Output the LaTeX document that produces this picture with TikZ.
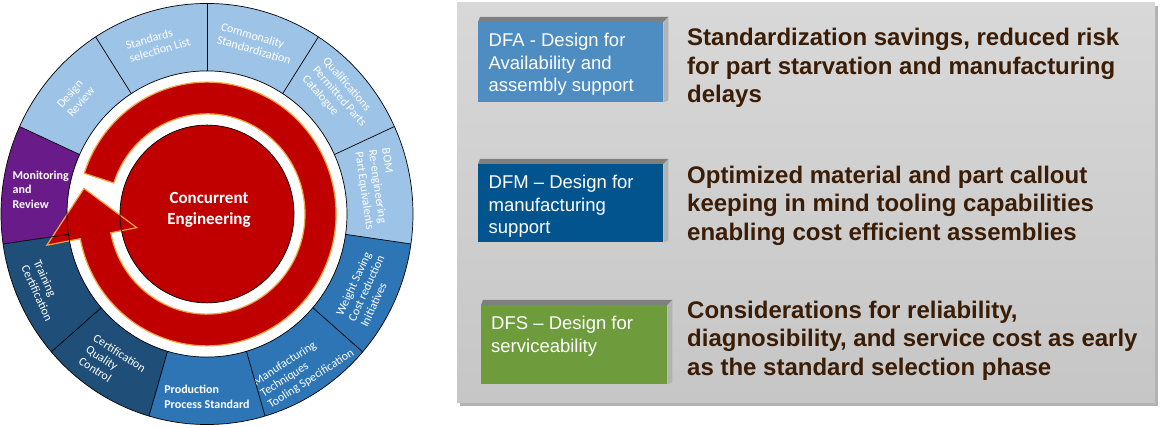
\documentclass[tikz,border=0pt]{standalone}
\usepackage{fontspec}
\setmainfont{Liberation Sans}
\newfontfamily\wheelfont{Carlito}
\usepackage{tikz}

\definecolor{segLight}{HTML}{9DC3E6}
\definecolor{segMid}{HTML}{2E75B6}
\definecolor{segDark}{HTML}{1F4E79}
\definecolor{segPurple}{HTML}{6A1B8A}
\definecolor{ceRed}{HTML}{C00000}
\definecolor{ceGlow}{HTML}{F2A33A}
\definecolor{dfaBlue}{HTML}{4E8DC1}
\definecolor{dfmBlue}{HTML}{02548F}
\definecolor{dfsGreen}{HTML}{6E9B3C}
\definecolor{noteBrown}{HTML}{3B1D06}
\definecolor{panelTop}{HTML}{D8D8D8}
\definecolor{panelBottom}{HTML}{C6C6C6}
\definecolor{edgeTop}{HTML}{7F7F7F}
\definecolor{edgeSide}{HTML}{B3B3B3}

\begin{document}
\begin{tikzpicture}[
    x=1pt, y=1pt,
    seg/.style={draw=black, line width=0.7pt},
    segtext/.style={text=white, font=\wheelfont\fontsize{12}{13.5}\selectfont, align=left, inner sep=0pt},
    dbox/.style={rectangle, inner sep=0pt, anchor=north west},
    boxtext/.style={text=white, font=\fontsize{18.5}{22.7}\selectfont, align=left, inner sep=0pt, anchor=north west},
    note/.style={text=noteBrown, font=\bfseries\fontsize{24}{28.5}\selectfont, align=left, inner sep=0pt, anchor=north west}
]
\path[use as bounding box, fill=white] (0,0) rectangle (1163,428);

% right panel
\fill[gray!60] (460,22) rectangle (1158,422);
\shade[top color=panelTop, bottom color=panelBottom] (457,25) rectangle (1155,425);

\node[dbox, fill=dfaBlue, minimum width=185, minimum height=80] (dfa) at (478,406) {};
\node[dbox, fill=dfmBlue, minimum width=185, minimum height=78] (dfm) at (478,264) {};
\node[dbox, fill=dfsGreen, minimum width=186, minimum height=79] (dfs) at (481,123) {};
\foreach \b in {dfa,dfm,dfs}{
  \fill[edgeTop] (\b.north west) -- ([shift={(2,5)}]\b.north west) -- ([shift={(5,5)}]\b.north east) -- (\b.north east) -- cycle;
  \fill[edgeSide] (\b.north east) -- ([shift={(5,5)}]\b.north east) -- ([shift={(5,2)}]\b.south east) -- (\b.south east) -- cycle;
}

\node[boxtext] (dfaText) at ([xshift=10.5,yshift=-10.9]dfa.north west) {DFA - Design for\\Availability and\\assembly support};
\node[boxtext] (dfmText) at ([xshift=10.5,yshift=-10.9]dfm.north west) {DFM -- Design for\\manufacturing\\support};
\node[boxtext] (dfsText) at ([xshift=10,yshift=-10.9]dfs.north west) {DFS -- Design for\\serviceability};

\node[note] (dfaNote) at (687,399.8) {Standardization savings, reduced risk\\for part starvation and manufacturing\\delays};
\node[note] (dfmNote) at (687,262.2) {Optimized material and part callout\\keeping in mind tooling capabilities\\enabling cost efficient assemblies};
\node[note] (dfsNote) at (687,127.2) {Considerations for reliability,\\diagnosibility, and service cost as early\\as the standard selection phase};

% wheel
\begin{scope}[shift={(207,214)}, yscale=1.022]
  \foreach \i/\col/\txt/\rot/\r in {
      0/segLight/{Commonality\\Standardization}/-16.4/174,
      1/segLight/{Qualifications\\Permitted Parts\\Catalogue}/-49.1/175,
      2/segLight/{BOM\\Re-engineering\\Part Equivalents}/-81.8/172,
      3/segMid/{Weight Saving\\Cost reduction\\Initiatives}/65.5/175,
      4/segMid/{Manufacturing\\Techniques\\Tooling Specification}/32.7/179,
      5/segMid/{\bfseries Production\\[1.5pt]\bfseries Process Standard}/0/179,
      6/segDark/{Certification\\Quality\\Control}/-32.7/175,
      7/segDark/{Training\\Certification}/-65.5/180,
      8/segPurple/{\bfseries Monitoring\\[1pt]\bfseries and\\[1pt]\bfseries Review}/0/168,
      9/segLight/{Design\\Review}/49.1/174,
      10/segLight/{Standards\\selection List}/16.4/174}{
    \pgfmathsetmacro\aone{90-32.7273*\i}
    \pgfmathsetmacro\atwo{\aone-32.7273}
    \pgfmathsetmacro\amid{\aone-16.3636}
    \fill[\col] (\aone:140) -- (\aone:206) arc[start angle=\aone, end angle=\atwo, radius=206]
      -- (\atwo:140) arc[start angle=\atwo, end angle=\aone, radius=140] -- cycle;
    \node[segtext, rotate=\rot] (seg\i) at (\amid:\r) {\txt};
  }

  \fill[ceRed] (0,0) circle[radius=87];

  % circular arrow
  \filldraw[fill=ceRed, draw=ceGlow, line width=1.2pt]
    (162:129) arc[start angle=162, end angle=-169.2, radius=129]
    -- (-169.2:163) -- (168.5:125.5) -- (-169.2:71.5) -- (-169.2:98)
    arc[start angle=-169.2, end angle=162, radius=98] -- cycle;

  % outlines on top
  \foreach \k in {0,...,10}
    \draw[seg] ({90-32.7273*\k}:140) -- ({90-32.7273*\k}:206);
  \draw[seg] (0,0) circle[radius=140];
  \draw[seg] (0,0) circle[radius=206];
  \draw[seg] (0,0) circle[radius=87];
  \node[text=white, font=\wheelfont\bfseries\fontsize{17}{21}\selectfont, align=center] (ce) at (2,4) {Concurrent\\Engineering};
\end{scope}
\end{tikzpicture}
\end{document}
